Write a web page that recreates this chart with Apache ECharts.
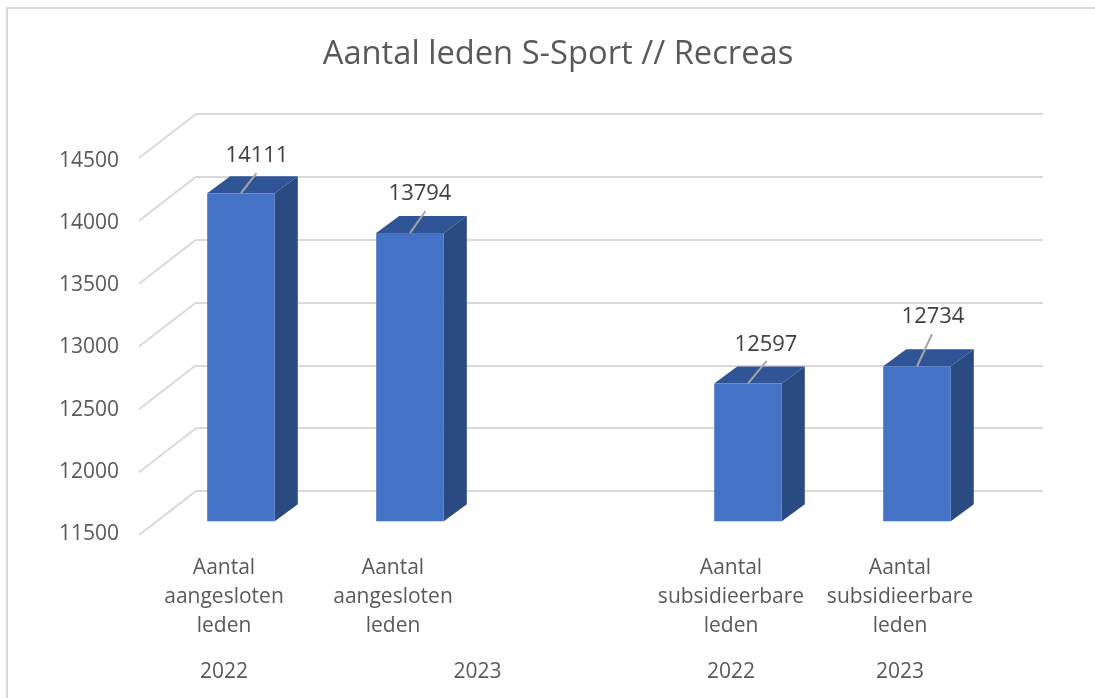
<!DOCTYPE html>
<html><head><meta charset="utf-8">
<style>html,body{margin:0;padding:0;background:#fff}#c{width:1095px;height:698px}</style>
<script src="https://cdn.jsdelivr.net/npm/echarts@6/dist/echarts.min.js"></script>
</head><body><div id="c"></div>
<script>
const titleText = 'Aantal leden S-Sport // Recreas';
const categories = ['Aantal\naangesloten\nleden', 'Aantal\naangesloten\nleden', '', 'Aantal\nsubsidieerbare\nleden', 'Aantal\nsubsidieerbare\nleden'];
const memberValues = [14111, 13794, null, 12597, 12734];
const yearLabels = ['2022', '2023', '2022', '2023'];
const yearSlots = [0, 1.5, 3, 4];
const yTicks = [11500, 12000, 12500, 13000, 13500, 14000, 14500];

// perspective layout
const depthX = 23, depthY = 17;
const wallDX = 57, wallDY = 44;
const leaderEnd = [[15.5, -20], [15.5, -22], null, [18.7, -22.5], [15, -32]];
const labelPos = [[16, -37], [10, -39], null, [18, -39], [16, -49]];

const FONT = '"Open Sans", sans-serif';
const TXT = '#595959';
const yCommon = {min: 11500, max: 14500, interval: 500};

const chart = echarts.init(document.getElementById('c'), null, {renderer: 'canvas'});
chart.setOption({
  animation: false,
  backgroundColor: '#fff',
  title: {text: titleText, left: 553, textAlign: 'center', top: 33,
    textStyle: {fontFamily: FONT, fontSize: 32.7, fontWeight: 'normal', color: TXT}},
  graphic: [{type: 'rect', silent: true, z: -10,
    shape: {x: 7, y: 8, width: 1300, height: 900},
    style: {fill: 'none', stroke: '#d9d9d9', lineWidth: 2}}],
  grid: [
    {left: 196, width: 847, top: 114, height: 377},
    {left: 156.5, width: 845, top: 144.3, height: 377},
    {left: 139, width: 845, top: 161, height: 373},
    {left: 139.5, width: 845, top: 542, height: 120}
  ],
  xAxis: [
    {gridIndex: 0, type: 'value', min: 0, max: 1, show: false},
    {gridIndex: 1, type: 'category', data: categories, show: false},
    {gridIndex: 2, type: 'value', min: 0, max: 1, show: false},
    {gridIndex: 3, type: 'category', data: categories, position: 'top',
      axisLine: {show: false}, axisTick: {show: false},
      axisLabel: {interval: 0, inside: true, margin: 12, lineHeight: 29, verticalAlign: 'top',
        fontFamily: FONT, fontSize: 21, color: TXT}},
    {gridIndex: 3, type: 'value', min: -0.5, max: 4.5, position: 'bottom', splitLine: {show: false},
      axisLine: {show: false}, axisTick: {show: false},
      axisLabel: {customValues: yearSlots, margin: 0, fontFamily: FONT, fontSize: 21, color: TXT,
        formatter: v => yearLabels[yearSlots.indexOf(v)]}}
  ],
  yAxis: [
    Object.assign({gridIndex: 0, type: 'value', axisLine: {show: false}, axisTick: {show: false},
      axisLabel: {show: false}, splitLine: {show: true, lineStyle: {color: '#d9d9d9', width: 2}}}, yCommon),
    Object.assign({gridIndex: 1, type: 'value', show: false, splitLine: {show: false}}, yCommon),
    Object.assign({gridIndex: 2, type: 'value', axisLine: {show: false}, axisTick: {show: false},
      splitLine: {show: false},
      axisLabel: {margin: 20, fontFamily: FONT, fontSize: 21, color: TXT, formatter: v => String(v)}}, yCommon),
    {gridIndex: 3, type: 'value', show: false, min: 0, max: 1, splitLine: {show: false}}
  ],
  series: [
    {type: 'custom', xAxisIndex: 0, yAxisIndex: 0, silent: true, z: 1,
      data: yTicks.map(v => [0, v]),
      renderItem(params, api) {
        const p = api.coord([0, api.value(1)]);
        return {type: 'line', shape: {x1: p[0], y1: p[1], x2: p[0] - wallDX, y2: p[1] + wallDY},
          style: {stroke: '#d9d9d9', lineWidth: 2}};
      }},
    {type: 'custom', xAxisIndex: 1, yAxisIndex: 1, silent: true, z: 3,
      data: memberValues.map((v, i) => [i, v]),
      encode: {x: 0, y: 1},
      renderItem(params, api) {
        const i = api.value(0), v = api.value(1);
        if (isNaN(v)) return;
        const top = api.coord([i, v]), base = api.coord([i, 11500]);
        const w = api.size([1, 0])[0] * 0.4;
        const l = top[0] - w / 2, r = top[0] + w / 2, t = top[1], b = base[1];
        const le = leaderEnd[i], lp = labelPos[i];
        return {type: 'group', children: [
          {type: 'polygon', shape: {points: [[r, t], [r + depthX, t - depthY], [r + depthX, b - depthY], [r, b]]},
            style: {fill: '#2A4A82'}},
          {type: 'polygon', shape: {points: [[l, t], [l + depthX, t - depthY], [r + depthX, t - depthY], [r, t]]},
            style: {fill: '#2F5597'}},
          {type: 'rect', shape: {x: l, y: t, width: w, height: b - t}, style: {fill: '#4472C4'}},
          {type: 'line', shape: {x1: top[0], y1: t, x2: top[0] + le[0], y2: t + le[1]},
            style: {stroke: '#a6a6a6', lineWidth: 2}},
          {type: 'text', x: top[0] + lp[0], y: t + lp[1],
            style: {text: String(v), fill: '#404040', font: '22px ' + FONT, align: 'center', verticalAlign: 'middle'}}
        ]};
      }},
    {type: 'custom', xAxisIndex: 2, yAxisIndex: 2, data: [], renderItem() {}},
    {type: 'custom', xAxisIndex: 3, yAxisIndex: 3, data: [], renderItem() {}},
    {type: 'custom', xAxisIndex: 4, yAxisIndex: 3, data: [], renderItem() {}}
  ]
});
</script></body></html>
